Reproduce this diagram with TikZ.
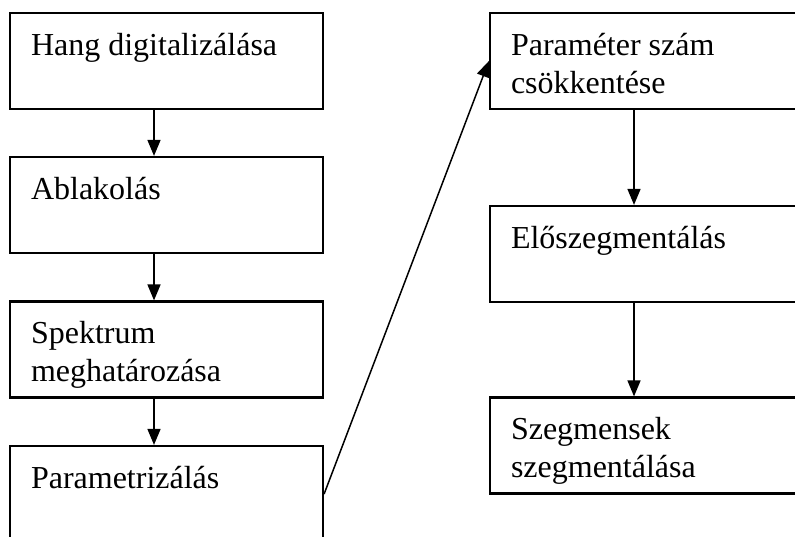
\documentclass[tikz,border=0pt]{standalone}
\usepackage{fontspec}
\setmainfont{Liberation Serif}
\usetikzlibrary{arrows.meta}

\newcommand*{\picwd}{795}
\newcommand*{\picht}{536}
\newcommand*{\stagetext}[1]{\parbox[c][48pt][t]{135.5pt}{\rule{0pt}{21pt}#1}}

\begin{document}
\begin{tikzpicture}
[
	stage/.style={rectangle,draw,line width=1.1pt,inner sep=0pt,minimum width=156.5pt,minimum height=48pt,font=\fontsize{16pt}{19pt}\selectfont},
	flow/.style={line width=0.75pt,-{Triangle[width=6.5pt,length=8pt]}},
	x=0.5pt,
	y=-0.5pt
]

	\useasboundingbox (0,0) rectangle (\picwd,\picht);
	\clip (0,0) rectangle (\picwd,\picht);

	% left column
	\node[stage] (digit) at (166.5,61)    {\stagetext{Hang digitalizálása}};
	\node[stage] (ablak) at (166.5,205)   {\stagetext{Ablakolás}};
	\node[stage] (spekt) at (166.5,349.5) {\stagetext{Spektrum\\meghatározása}};
	\node[stage] (param) at (166.5,494)   {\stagetext{Parametrizálás}};

	% right column
	\node[stage] (csokk) at (646.5,61)    {\stagetext{Paraméter szám\\csökkentése}};
	\node[stage] (eloszeg) at (646.5,254) {\stagetext{Előszegmentálás}};
	\node[stage] (szeg) at (646.5,445.5)  {\stagetext{Szegmensek\\szegmentálása}};

	% arrows
	\foreach \a/\b in {digit/ablak,ablak/spekt,spekt/param,csokk/eloszeg,eloszeg/szeg} {
		\draw[flow] ([xshift=-6.25pt]\a.south) -- ([xshift=-6.25pt]\b.north);
	}
	\draw[flow] (param.east) -- (csokk.west);

\end{tikzpicture}
\end{document}
